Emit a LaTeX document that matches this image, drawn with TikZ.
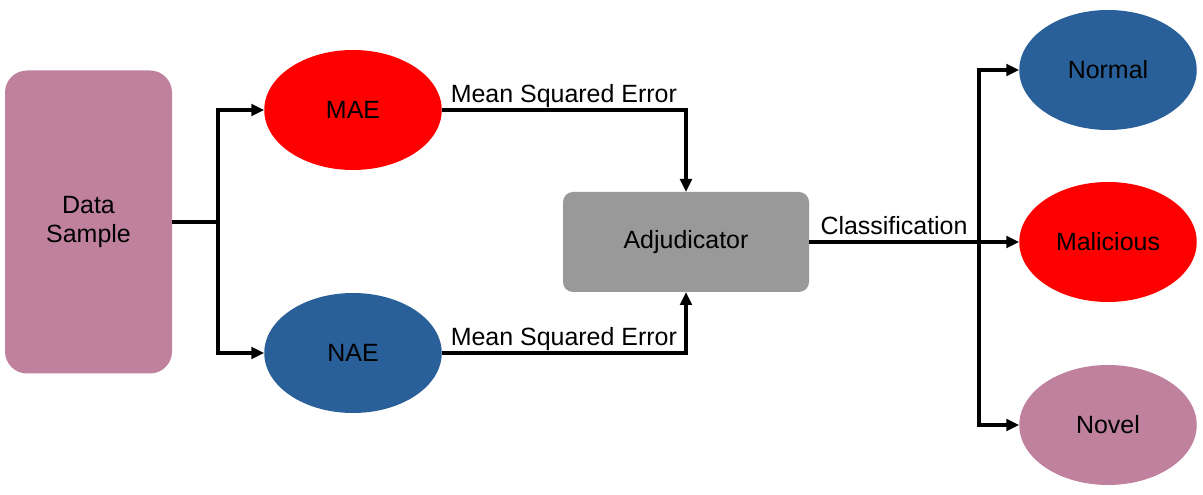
\documentclass[tikz,border=0pt]{standalone}
\usepackage{fontspec}
\setmainfont{Liberation Sans}
\usetikzlibrary{shapes.geometric,arrows.meta}

\definecolor{mauve}{HTML}{BF819E}
\definecolor{dblue}{HTML}{2A6099}
\definecolor{adjgray}{HTML}{999999}

\begin{document}
\begin{tikzpicture}[
        font=\fontsize{14.2}{16.5}\selectfont,
        box/.style={rectangle, draw=none, outer sep=0pt, align=center},
        ell/.style={ellipse, draw=none, inner sep=0pt, outer sep=0pt, minimum width=3.55cm, minimum height=2.4cm},
        link/.style={line width=2pt, -{Triangle[length=2.6mm, width=2.3mm]}},
        lbl/.style={above, inner sep=0pt, text depth=3pt},
        ]
      \useasboundingbox (0, 0) rectangle (24.06, 9.9);

      \node[box, fill=mauve, rounded corners=0.44cm, minimum width=3.34cm, minimum height=6.06cm] (ds) at (1.77, 5.46) {Data\\Sample};

      \node[ell, fill=red] (mae) at (7.06, 7.7) {MAE};
      \node[ell, fill=dblue] (nae) at (7.06, 2.84) {NAE};

      \node[box, fill=adjgray, rounded corners=0.2cm, minimum width=4.92cm, minimum height=2cm] (adj) at (13.72, 5.06) {Adjudicator};

      \node[ell, fill=dblue] (normal) at (22.16, 8.5) {Normal};
      \node[ell, fill=red] (mal) at (22.16, 5.06) {Malicious};
      \node[ell, fill=mauve] (novel) at (22.16, 1.4) {Novel};

      \coordinate (split) at (4.36, 5.46);
      \coordinate (fork) at (19.58, 5.06);

      % input to the two autoencoders
      \draw[line width=2pt] (ds.east) -- (split);
      \draw[link] (split) |- (mae.west);
      \draw[link] (split) |- (nae.west);

      \draw[link] (mae.east) -| node[lbl, pos=0.25] {Mean Squared Error} (adj.north);
      \draw[link] (nae.east) -| node[lbl, pos=0.25] {Mean Squared Error} (adj.south);

      % classification output
      \draw[line width=2pt] (adj.east) -- node[lbl] {Classification} (fork);
      \draw[link] (fork) |- (normal.west);
      \draw[link] (fork) -- (mal.west);
      \draw[link] (fork) |- (novel.west);
    \end{tikzpicture}
\end{document}
